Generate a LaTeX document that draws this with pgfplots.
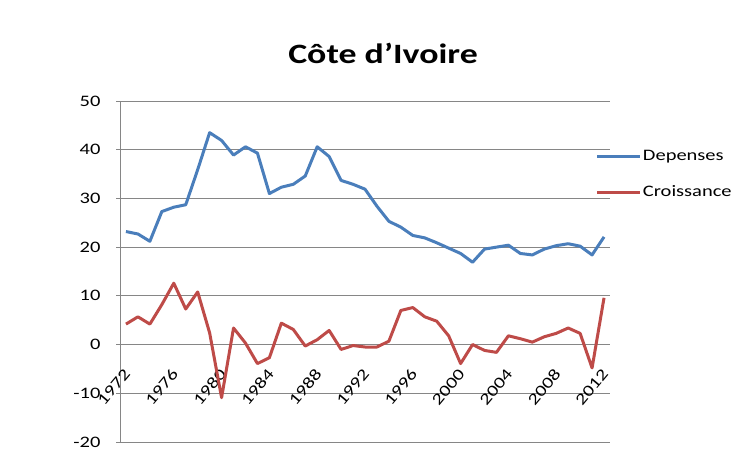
\documentclass[border=0pt]{standalone}
\usepackage{pgfplots}
\pgfplotsset{compat=1.18}
\usepackage{fontspec}
\setmainfont[FakeStretch=1.28]{Carlito}
\definecolor{dep}{HTML}{4A7EBB}
\definecolor{cro}{HTML}{BE4B48}
\definecolor{gridc}{HTML}{868686}
\begin{document}
\begin{tikzpicture}
\useasboundingbox (0,0) rectangle (751pt,462pt);
\begin{axis}[
  at={(120pt,20pt)}, anchor=south west,
  scale only axis, width=490pt, height=341pt,
  xmin=1971.5, xmax=2012.5, ymin=-20, ymax=50,
  axis x line=middle, axis y line=left,
  axis line style={-, gridc, line width=0.8pt},
  xtick={1972,1976,...,2012},
  xticklabels={1972,1976,1980,1984,1988,1992,1996,2000,2004,2008,2012},
  ytick={-20,-10,...,50},
  yticklabels={-20,-10,0,10,20,30,40,50},
  ymajorgrids, grid style={gridc, line width=0.8pt},
  major x tick style={draw=none},
  major y tick style={gridc, line width=0.8pt},
  tick align=outside, major tick length=4pt,
  ytick pos=left,
  tick label style={font=\fontsize{16}{18}\selectfont, text=black},
  yticklabel style={xshift=-12pt},
  xticklabel style={xshift=-3pt, yshift=-19pt, rotate=50, anchor=north east, inner sep=0pt},
  title={Côte d{\char"27}Ivoire},
  title style={font=\fontsize{28}{32}\selectfont\bfseries, at={(0.5,1)}, anchor=center, yshift=42pt, xshift=18pt},
  legend style={draw=none, fill=none, at={(0.971,0.785)}, anchor=west, inner sep=0pt,
    font=\fontsize{16}{18}\selectfont, row sep=22pt, nodes={inner sep=1pt}},
  legend cell align=left,
  legend image code/.code={\draw[#1] (0pt,0pt) -- (43pt,0pt);},
  clip=false,
]
\addplot[dep, line width=3pt, line join=round] coordinates {
(1972,23.2) (1973,22.7) (1974,21.2) (1975,27.3) (1976,28.2) (1977,28.7)
(1978,35.9) (1979,43.5) (1980,41.9) (1981,38.9) (1982,40.6) (1983,39.3)
(1984,31.0) (1985,32.3) (1986,32.9) (1987,34.6) (1988,40.6) (1989,38.6)
(1990,33.7) (1991,32.9) (1992,31.9) (1993,28.4) (1994,25.3) (1995,24.1)
(1996,22.4) (1997,21.9) (1998,20.9) (1999,19.8) (2000,18.7) (2001,16.9)
(2002,19.6) (2003,20.0) (2004,20.4) (2005,18.7) (2006,18.4) (2007,19.6)
(2008,20.3) (2009,20.7) (2010,20.2) (2011,18.4) (2012,22.1)
};
\addlegendentry{Depenses}
\addplot[cro, line width=3pt, line join=round] coordinates {
(1972,4.2) (1973,5.7) (1974,4.2) (1975,8.2) (1976,12.6) (1977,7.3)
(1978,10.8) (1979,2.4) (1980,-10.9) (1981,3.4) (1982,0.3) (1983,-3.9)
(1984,-2.7) (1985,4.4) (1986,3.1) (1987,-0.3) (1988,1.0) (1989,2.9)
(1990,-1.0) (1991,-0.2) (1992,-0.5) (1993,-0.5) (1994,0.7) (1995,7.0)
(1996,7.6) (1997,5.7) (1998,4.8) (1999,1.8) (2000,-3.9) (2001,0.0)
(2002,-1.2) (2003,-1.6) (2004,1.8) (2005,1.2) (2006,0.5) (2007,1.6)
(2008,2.3) (2009,3.4) (2010,2.3) (2011,-4.8) (2012,9.6)
};
\addlegendentry{Croissance}
\end{axis}
\end{tikzpicture}
\end{document}
